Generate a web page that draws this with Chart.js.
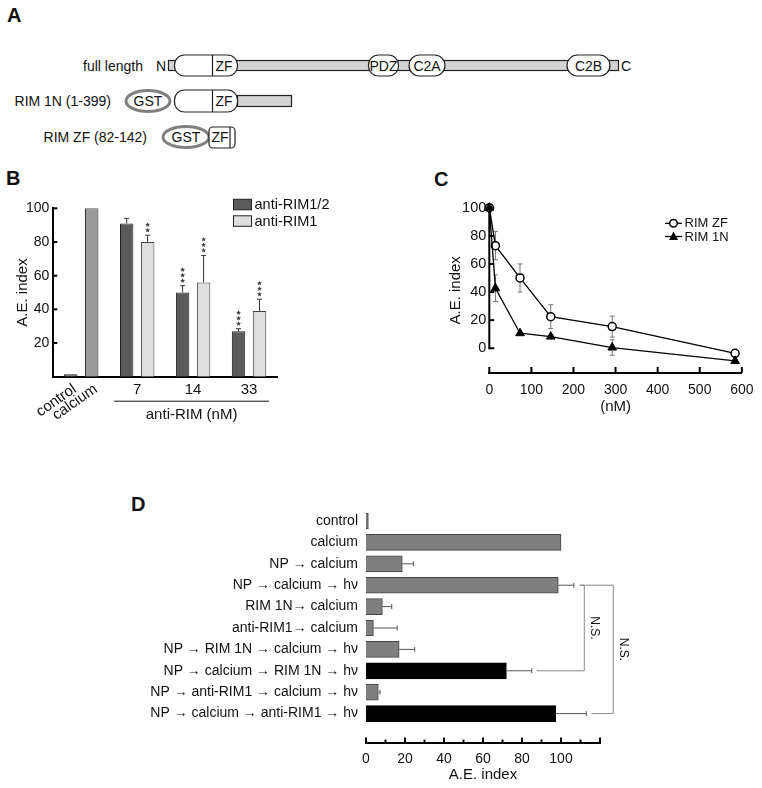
<!DOCTYPE html>
<html><head><meta charset="utf-8">
<script src="https://cdn.jsdelivr.net/npm/chart.js@4.4.1/dist/chart.umd.min.js"></script>
<style>
html,body{margin:0;padding:0;background:#fff;}
#page{position:relative;width:762px;height:788px;overflow:hidden;background:#fff;}
canvas{position:absolute;}
svg{position:absolute;left:0;top:0;}
</style></head>
<body><div id="page">
<svg width="762" height="788" font-family="Liberation Sans, Arial, sans-serif">
  <g font-weight="bold" font-size="20" fill="#111">
    <text x="7" y="22">A</text>
    <text x="6" y="185">B</text>
    <text x="434" y="186">C</text>
    <text x="131" y="511">D</text>
  </g>
  <g font-size="14" fill="#111">
    <text x="143" y="70.5" text-anchor="end">full length</text>
    <text x="156" y="70.5">N</text>
    <text x="621" y="70.5">C</text>
    <text x="111" y="106" text-anchor="end">RIM 1N (1-399)</text>
    <text x="147" y="142" text-anchor="end">RIM ZF (82-142)</text>
  </g>
  <g stroke="#222" stroke-width="1.2" font-size="14">
    <rect x="168.5" y="60.5" width="450" height="10" fill="#d3d3d3"/>
    <rect x="174.5" y="55" width="63" height="21" rx="10" fill="#fff"/>
    <line x1="212.5" y1="55" x2="212.5" y2="76"/>
    <rect x="368.5" y="55" width="30" height="21" rx="10" fill="#fff"/>
    <rect x="409" y="55" width="36" height="21" rx="10.5" fill="#fff"/>
    <rect x="567" y="55" width="43" height="21" rx="10.5" fill="#fff"/>

    <rect x="237.5" y="95.5" width="54" height="11" fill="#d3d3d3"/>
    <ellipse cx="148" cy="101" rx="22" ry="10.5" fill="#fff" stroke="#808080" stroke-width="3"/>
    <rect x="174.5" y="90" width="63" height="22" rx="10" fill="#fff"/>
    <line x1="212.5" y1="90" x2="212.5" y2="112"/>

    <ellipse cx="186" cy="137" rx="23" ry="10.5" fill="#fff" stroke="#808080" stroke-width="3"/>
    <rect x="209" y="127" width="26" height="21" rx="4" fill="#fff"/>
    <line x1="230" y1="127" x2="230" y2="148"/>
  </g>
  <g font-size="14" fill="#111" text-anchor="middle">
    <text x="224" y="70.5">ZF</text>
    <text x="383.5" y="70.5">PDZ</text>
    <text x="427" y="70.5">C2A</text>
    <text x="588.5" y="70.5">C2B</text>
    <text x="148" y="106">GST</text>
    <text x="224" y="106">ZF</text>
    <text x="186" y="142">GST</text>
    <text x="220" y="142">ZF</text>
  </g>
</svg>
<canvas id="cB" width="380" height="260" style="left:0;top:180px"></canvas>
<canvas id="cC" width="382" height="260" style="left:380px;top:160px"></canvas>
<canvas id="cD" width="762" height="308" style="left:0;top:480px"></canvas>
</div>
<script>
// ---------------- Panel B data ----------------
const bControlLabels = ['control', 'calcium'];
const bControlValues = [1.5, 100];
const bDoses = ['7', '14', '33'];
const bAntiRIM12 = [91, 50, 27];
const bAntiRIM12Err = [3, 4, 1.5];
const bAntiRIM12Sig = [0, 3, 3];
const bAntiRIM1 = [80, 56, 39];
const bAntiRIM1Err = [4, 16, 7];
const bAntiRIM1Sig = [2, 3, 3];
const bYTicks = [20, 40, 60, 80, 100];

// ---------------- Panel C data ----------------
const cConc = [0, 14.6, 73, 146, 292, 584];
const cRimZF = [100, 73, 50, 22.5, 15.4, -3.6];
const cRimZFErr = [0, 10, 10, 8.5, 7.5, 2];
const cRim1N = [100, 42.7, 10.7, 8.3, 0.5, -9];
const cRim1NErr = [0, 9.5, 0, 0, 5.5, 0];
const cXTicks = [0, 100, 200, 300, 400, 500, 600];
const cYTicks = [0, 20, 40, 60, 80, 100];

// ---------------- Panel D data ----------------
const dConditions = [
  'control',
  'calcium',
  'NP \u2192 calcium',
  'NP \u2192 calcium \u2192 h\u03bd',
  'RIM 1N\u2192 calcium',
  'anti-RIM1\u2192 calcium',
  'NP \u2192 RIM 1N \u2192 calcium \u2192 h\u03bd',
  'NP \u2192 calcium \u2192 RIM 1N \u2192 h\u03bd',
  'NP \u2192 anti-RIM1 \u2192 calcium \u2192 h\u03bd',
  'NP \u2192 calcium \u2192 anti-RIM1 \u2192 h\u03bd'
];
const dBeforeCa = [1.2, 100, 18.6, 98.6, 8.4, 3.8, 17, null, 6.3, null];
const dAfterCa  = [null, null, null, null, null, null, null, 72, null, 97.3];
const dErr      = [0, 0, 5.7, 8, 4.8, 12.2, 8, 13, 0.9, 15.7];
const dXTicks = [0, 10, 20, 30, 40, 50, 60, 70, 80, 90, 100, 110, 120];
const dXTickLabels = [0, 20, 40, 60, 80, 100];
const dComparisons = [[3, 7, 'N.S.'], [3, 9, 'N.S.']];

const FONT = '"Liberation Sans", Arial, sans-serif';
Chart.defaults.font.family = FONT;
Chart.defaults.color = '#111';
Chart.defaults.animation = false;

function line(ctx, x1, y1, x2, y2) { ctx.beginPath(); ctx.moveTo(x1, y1); ctx.lineTo(x2, y2); ctx.stroke(); }
function star(ctx, x, y, r) {
  ctx.beginPath();
  for (let i = 0; i < 10; i++) {
    const a = -Math.PI / 2 + i * Math.PI / 5;
    const rr = i % 2 ? r * 0.45 : r;
    ctx.lineTo(x + rr * Math.cos(a), y + rr * Math.sin(a));
  }
  ctx.closePath(); ctx.fill();
}

// ---------------- Panel B ----------------
const bDark = '#5b5b5b', bLight = '#dedede', bMid = '#9a9a9a';
const bPlugin = {
  id: 'bExtras',
  afterDatasetsDraw(chart) {
    const { ctx, chartArea, scales: { x, y } } = chart;
    ctx.save();
    ctx.strokeStyle = '#000'; ctx.lineWidth = 2;
    bYTicks.forEach(v => { const py = y.getPixelForValue(v); line(ctx, chartArea.left, py, chartArea.left + 4, py); });
    chart.data.datasets.forEach((ds, di) => {
      if (!ds.errors) return;
      const meta = chart.getDatasetMeta(di);
      ds.data.forEach((v, i) => {
        if (v == null) return;
        const bar = meta.data[i];
        const e = ds.errors[i] || 0;
        const top = y.getPixelForValue(v + e);
        ctx.strokeStyle = '#333'; ctx.lineWidth = 1;
        if (e > 0) {
          line(ctx, bar.x, bar.y, bar.x, top);
          line(ctx, bar.x - 2.5, top, bar.x + 2.5, top);
        }
        const n = ds.sig ? ds.sig[i] : 0;
        ctx.fillStyle = '#444';
        for (let k = 0; k < n; k++) star(ctx, bar.x, top - 5 - k * 5.5, 2.6);
      });
    });
    ctx.fillStyle = '#111';
    ctx.font = '15px ' + FONT;
    [0, 1].forEach(di => {
      const bar = chart.getDatasetMeta(di).data[0];
      ctx.save();
      ctx.translate(bar.x + 4, chartArea.bottom + 11);
      ctx.rotate(-35 * Math.PI / 180);
      ctx.textAlign = 'right'; ctx.textBaseline = 'middle';
      ctx.fillText(bControlLabels[di], 0, 0);
      ctx.restore();
    });
    ctx.textAlign = 'center'; ctx.textBaseline = 'middle';
    bDoses.forEach((d, k) => ctx.fillText(d, x.getPixelForValue(k + 1), chartArea.bottom + 13.5));
    const gl = x.getPixelForValue(1) - 23, gr = x.getPixelForValue(bDoses.length) + 20;
    ctx.strokeStyle = '#111'; ctx.lineWidth = 1;
    line(ctx, gl, chartArea.bottom + 24.5, gr, chartArea.bottom + 24.5);
    ctx.fillText('anti-RIM (nM)', (gl + gr) / 2, chartArea.bottom + 38.5);
    const lg = [[chart.data.datasets[2], 19.3], [chart.data.datasets[3], 35.8]];
    ctx.textAlign = 'left';
    ctx.font = '14.5px ' + FONT;
    lg.forEach(([ds, yy]) => {
      ctx.fillStyle = ds.backgroundColor; ctx.fillRect(233.5, yy, 18, 10.5);
      ctx.strokeStyle = '#222'; ctx.lineWidth = 1; ctx.strokeRect(233.5, yy, 18, 10.5);
      ctx.fillStyle = '#111'; ctx.fillText(ds.label, 254.5, yy + 5.8);
    });
    ctx.restore();
  }
};

const nulls = n => Array(n).fill(null);
new Chart(document.getElementById('cB'), {
  type: 'bar',
  data: {
    labels: ['control / calcium', ...bDoses],
    datasets: [
      { label: bControlLabels[0], data: [bControlValues[0], ...nulls(bDoses.length)], backgroundColor: bDark, borderColor: '#222', borderWidth: 1 },
      { label: bControlLabels[1], data: [bControlValues[1], ...nulls(bDoses.length)], backgroundColor: bMid, borderColor: '#222', borderWidth: 1 },
      { label: 'anti-RIM1/2', data: [null, ...bAntiRIM12], errors: [null, ...bAntiRIM12Err], sig: [0, ...bAntiRIM12Sig], backgroundColor: bDark, borderColor: '#222', borderWidth: 1 },
      { label: 'anti-RIM1', data: [null, ...bAntiRIM1], errors: [null, ...bAntiRIM1Err], sig: [0, ...bAntiRIM1Sig], backgroundColor: bLight, borderColor: '#444', borderWidth: 1 }
    ]
  },
  options: {
    responsive: false, animation: false,
    datasets: { bar: { skipNull: true, categoryPercentage: 0.75, barPercentage: 0.64 } },
    layout: { padding: { left: 0, top: 28.3, right: 103, bottom: 0 } },
    scales: {
      x: {
        grid: { display: false, drawTicks: false }, ticks: { display: false },
        border: { color: '#000', width: 2 },
        afterFit: s => { s.height = 63.3; }
      },
      y: {
        min: 0, max: 100,
        afterBuildTicks: s => { s.ticks = bYTicks.map(v => ({ value: v })); },
        ticks: { font: { size: 14 }, padding: 4, color: '#111' },
        grid: { display: false, drawTicks: false },
        border: { color: '#000', width: 2 },
        title: { display: true, text: 'A.E. index', font: { size: 15 }, color: '#111', padding: { top: 14, bottom: 0 } },
        afterFit: s => { s.width = 53.3; }
      }
    },
    plugins: { legend: { display: false }, tooltip: { enabled: false } }
  },
  plugins: [bPlugin]
});

// ---------------- Panel C ----------------
const cPlugin = {
  id: 'cExtras',
  beforeDatasetsDraw(chart) {
    const { ctx, chartArea, scales: { x, y } } = chart;
    ctx.save();
    ctx.strokeStyle = '#000'; ctx.lineWidth = 2;
    const y0 = y.getPixelForValue(cYTicks[0]), y1 = y.getPixelForValue(cYTicks[cYTicks.length - 1]);
    line(ctx, chartArea.left, y0 + 1, chartArea.left, y1 - 1);
    cYTicks.forEach(v => { const py = y.getPixelForValue(v); line(ctx, chartArea.left, py, chartArea.left + 5, py); });
    cXTicks.forEach(v => { const px = x.getPixelForValue(v); line(ctx, px, chartArea.bottom, px, chartArea.bottom - 6); });
    ctx.strokeStyle = '#777'; ctx.lineWidth = 1;
    chart.data.datasets.forEach(ds => {
      ds.data.forEach((p, i) => {
        const e = ds.errors[i]; if (!e) return;
        const px = x.getPixelForValue(p.x), pt = y.getPixelForValue(p.y + e), pb = y.getPixelForValue(p.y - e);
        line(ctx, px, pt, px, pb);
        line(ctx, px - 2.5, pt, px + 2.5, pt);
        line(ctx, px - 2.5, pb, px + 2.5, pb);
      });
    });
    ctx.restore();
  },
  afterDraw(chart) {
    const { ctx } = chart;
    ctx.save();
    ctx.font = '13px ' + FONT; ctx.textBaseline = 'middle'; ctx.fillStyle = '#111';
    const items = [[chart.data.datasets[0], 63.3], [chart.data.datasets[1], 76.5]];
    items.forEach(([ds, yy]) => {
      ctx.strokeStyle = '#000'; ctx.lineWidth = 1.3;
      line(ctx, 285, yy, 302, yy);
      ctx.beginPath();
      if (ds.pointStyle === 'circle') {
        ctx.arc(293.5, yy, 3.8, 0, Math.PI * 2); ctx.fillStyle = '#fff'; ctx.fill(); ctx.lineWidth = 1.5; ctx.stroke();
      } else {
        ctx.moveTo(293.5, yy - 5); ctx.lineTo(298, yy + 3.5); ctx.lineTo(289, yy + 3.5); ctx.closePath(); ctx.fillStyle = '#000'; ctx.fill();
      }
      ctx.fillStyle = '#111'; ctx.fillText(ds.label, 304.5, yy + 0.5);
    });
    ctx.restore();
  }
};

new Chart(document.getElementById('cC'), {
  type: 'line',
  data: {
    datasets: [
      { label: 'RIM ZF', data: cConc.map((c, i) => ({ x: c, y: cRimZF[i] })), errors: cRimZFErr,
        borderColor: '#000', borderWidth: 1.3, pointStyle: 'circle', pointRadius: 4, pointBackgroundColor: '#fff',
        pointBorderColor: '#000', pointBorderWidth: 1.5, clip: false, tension: 0, order: 1 },
      { label: 'RIM 1N', data: cConc.map((c, i) => ({ x: c, y: cRim1N[i] })), errors: cRim1NErr,
        borderColor: '#000', borderWidth: 1.3, pointStyle: 'triangle', pointRadius: 5, pointBackgroundColor: '#000',
        pointBorderColor: '#000', pointBorderWidth: 1, clip: false, tension: 0, order: 0 }
    ]
  },
  options: {
    responsive: false, animation: false,
    layout: { padding: { left: 63, top: 47.7, right: 19, bottom: 0 } },
    scales: {
      x: {
        type: 'linear', min: 0, max: 600,
        afterBuildTicks: s => { s.ticks = cXTicks.map(v => ({ value: v })); },
        ticks: { font: { size: 14 }, padding: 8.5, color: '#111' },
        grid: { display: false, drawTicks: false },
        border: { color: '#000', width: 2 },
        title: { display: true, text: '(nM)', font: { size: 15 }, color: '#111', padding: { top: 0, bottom: 4 } },
        afterFit: s => { s.height = 47; }
      },
      y: {
        min: -17.6, max: 100,
        afterBuildTicks: s => { s.ticks = cYTicks.map(v => ({ value: v })); },
        ticks: { font: { size: 14.5 }, padding: 3, color: '#111' },
        grid: { display: false, drawTicks: false },
        border: { display: false },
        title: { display: true, text: 'A.E. index', font: { size: 15 }, color: '#111', padding: { top: 4, bottom: 0 } },
        afterFit: s => { s.width = 46.3; }
      }
    },
    plugins: { legend: { display: false }, tooltip: { enabled: false } }
  },
  plugins: [cPlugin]
});

// ---------------- Panel D ----------------
const dPlugin = {
  id: 'dExtras',
  afterDatasetsDraw(chart) {
    const { ctx, chartArea, scales: { x, y } } = chart;
    ctx.save();
    ctx.strokeStyle = '#000'; ctx.lineWidth = 2;
    dXTicks.forEach(v => {
      const px = x.getPixelForValue(v);
      line(ctx, px, chartArea.bottom, px, chartArea.bottom - (v % 20 === 0 ? 5 : 3));
    });
    ctx.strokeStyle = '#555'; ctx.lineWidth = 1;
    const ends = [];
    dConditions.forEach((c, i) => {
      const v = dBeforeCa[i] != null ? dBeforeCa[i] : dAfterCa[i];
      const e = dErr[i];
      ends[i] = x.getPixelForValue(v + e);
      if (!e) return;
      const py = y.getPixelForValue(i);
      line(ctx, x.getPixelForValue(v), py, ends[i], py);
      line(ctx, ends[i], py - 2.5, ends[i], py + 2.5);
    });
    ctx.strokeStyle = '#8a8a8a'; ctx.lineWidth = 1;
    ctx.fillStyle = '#111'; ctx.font = '12px ' + FONT;
    const cols = [chartArea.right - 15.7, chartArea.right + 13.3];
    dComparisons.forEach(([a, b, txt], k) => {
      const col = cols[k];
      const ya = y.getPixelForValue(a), yb = y.getPixelForValue(b);
      ctx.beginPath();
      ctx.moveTo(ends[a] + 6, ya); ctx.lineTo(col, ya); ctx.lineTo(col, yb); ctx.lineTo(ends[b] + 5, yb);
      ctx.stroke();
      ctx.save();
      ctx.translate(col + 10, (ya + yb) / 2);
      ctx.rotate(Math.PI / 2);
      ctx.textAlign = 'center'; ctx.textBaseline = 'middle';
      ctx.fillText(txt, 0, 0);
      ctx.restore();
    });
    ctx.restore();
  }
};

const toPoints = arr => arr.map((v, i) => (v == null ? null : { x: v, y: i })).filter(p => p);
new Chart(document.getElementById('cD'), {
  type: 'bar',
  data: {
    datasets: [
      { label: 'treatment before calcium', data: toPoints(dBeforeCa), backgroundColor: '#7f7f7f', borderColor: '#444', borderWidth: 1,
        barThickness: 16, grouped: false },
      { label: 'treatment after calcium', data: toPoints(dAfterCa), backgroundColor: '#000', borderColor: '#000', borderWidth: 1,
        barThickness: 16, grouped: false }
    ]
  },
  options: {
    indexAxis: 'y', responsive: false, animation: false,
    layout: { padding: { left: 0, top: 18.1, right: 162, bottom: 0 } },
    scales: {
      y: {
        type: 'linear', reverse: true, min: -0.5, max: 9.78,
        afterBuildTicks: s => { s.ticks = dConditions.map((_, i) => ({ value: i })); },
        ticks: { callback: v => dConditions[v], font: { size: 14 }, padding: 8, color: '#111', autoSkip: false },
        grid: { display: false, drawTicks: false },
        border: { display: false },
        afterFit: s => { s.width = 366; }
      },
      x: {
        min: 0, max: 120,
        afterBuildTicks: s => { s.ticks = dXTicks.map(v => ({ value: v })); },
        ticks: { callback: v => (dXTickLabels.includes(v) ? String(v) : ''), font: { size: 14 }, padding: 8, color: '#111', autoSkip: false, maxRotation: 0 },
        grid: { display: false, drawTicks: false },
        border: { color: '#000', width: 2 },
        title: { display: true, text: 'A.E. index', font: { size: 15 }, color: '#111', padding: { top: 0, bottom: 4 } },
        afterFit: s => { s.height = 45.5; }
      }
    },
    plugins: { legend: { display: false }, tooltip: { enabled: false } }
  },
  plugins: [dPlugin]
});
</script>
</body></html>
